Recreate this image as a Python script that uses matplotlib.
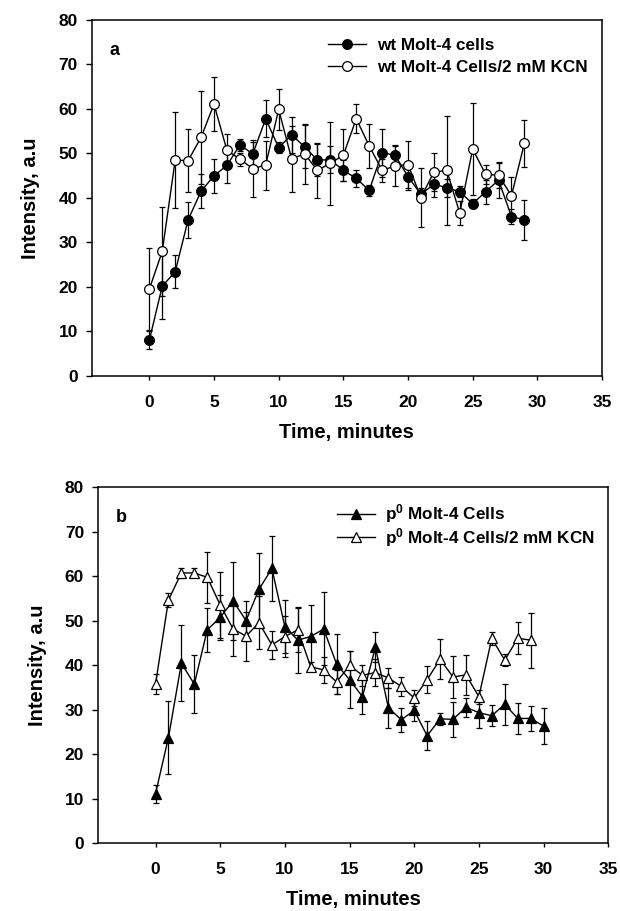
import matplotlib
matplotlib.use("Agg")
import matplotlib.pyplot as plt
from matplotlib.lines import Line2D

plt.rcParams['font.family'] = ['Liberation Sans', 'DejaVu Sans']
plt.rcParams['font.weight'] = 'bold'
plt.rcParams['mathtext.fontset'] = 'custom'
plt.rcParams['mathtext.rm'] = 'Liberation Sans:bold'
plt.rcParams['mathtext.bf'] = 'Liberation Sans:bold'
plt.rcParams['mathtext.it'] = 'Liberation Sans:bold'

# ---- Panel a data ----
time_a = list(range(0, 30))
wt = [8.0, 20.2, 23.4, 35.1, 41.5, 45.0, 47.3, 51.9, 49.9, 57.8,
      51.3, 54.2, 51.5, 48.5, 48.6, 46.2, 44.4, 41.7, 50.2, 49.6,
      44.8, 40.8, 43.1, 42.3, 41.4, 38.7, 41.4, 44.0, 35.8, 35.1]
wt_err = [2.0, 7.5, 3.7, 4.0, 3.8, 3.8, 4.0, 1.3, 2.6, 4.2,
          1.2, 4.0, 4.8, 3.6, 3.0, 2.4, 1.9, 1.2, 5.4, 2.4,
          3.0, 1.5, 2.9, 2.0, 1.2, 1.0, 2.7, 4.1, 1.7, 4.5]
wt_kcn = [19.5, 28.0, 48.5, 48.4, 53.6, 61.1, 50.7, 48.7, 46.6, 47.4,
          59.9, 48.8, 49.9, 46.2, 47.8, 49.6, 57.8, 51.7, 46.2, 47.2,
          47.5, 40.1, 45.8, 46.2, 36.6, 51.0, 45.3, 45.1, 40.5, 52.3]
wt_kcn_err = [9.2, 10.0, 10.8, 7.0, 10.5, 6.0, 3.6, 1.5, 6.4, 5.5,
              4.6, 7.4, 6.7, 6.1, 9.3, 5.8, 3.3, 4.9, 2.6, 4.5,
              5.3, 6.7, 4.3, 12.2, 2.7, 10.4, 2.1, 2.8, 4.2, 5.3]

# ---- Panel b data ----
time_b = list(range(0, 31))
p0 = [11.1, 23.7, 40.4, 35.7, 47.9, 50.7, 54.4, 50.0, 57.0, 61.7,
      48.6, 45.6, 46.4, 48.1, 40.2, 36.7, 32.9, 44.0, 30.4, 27.7,
      29.8, 24.1, 27.9, 27.8, 30.5, 29.3, 28.6, 31.2, 28.0, 28.0, 26.3]
p0_err = [2.0, 8.2, 8.5, 6.5, 5.0, 5.0, 8.8, 4.5, 8.2, 7.3,
          6.0, 7.5, 7.0, 8.2, 6.8, 6.4, 4.0, 3.4, 4.5, 2.7,
          2.3, 3.3, 1.4, 4.0, 2.2, 3.5, 2.4, 4.6, 3.5, 2.8, 4.0]
time_b2 = list(range(0, 30))
p0_kcn = [35.7, 54.6, 60.7, 60.7, 59.7, 53.5, 48.1, 46.5, 49.5, 44.5,
          46.4, 47.9, 39.6, 38.9, 36.2, 39.9, 37.7, 38.3, 37.1, 35.2,
          32.6, 36.7, 41.3, 37.3, 37.8, 32.9, 46.0, 41.1, 46.0, 45.6]
p0_kcn_err = [2.2, 1.5, 1.1, 1.0, 5.8, 7.5, 6.0, 5.5, 6.0, 3.2,
              4.6, 5.0, 1.0, 3.0, 2.6, 3.2, 2.4, 3.0, 2.3, 2.1,
              1.8, 3.0, 4.5, 4.8, 4.5, 1.6, 1.5, 1.4, 3.6, 6.2]

labels_a = ["wt Molt-4 cells", "wt Molt-4 Cells/2 mM KCN"]
labels_b = [r"p$^{0}$ Molt-4 Cells", r"p$^{0}$ Molt-4 Cells/2 mM KCN"]
yticks = [0, 10, 20, 30, 40, 50, 60, 70, 80]
xticks = [0, 5, 10, 15, 20, 25, 30, 35]

fig = plt.figure(figsize=(6.2, 9.11), dpi=100)
ax_a = fig.add_axes([0.148, 0.5873, 0.823, 0.3908])
ax_b = fig.add_axes([0.158, 0.0746, 0.823, 0.3908])

eb_kw = dict(color='black', lw=1.0, elinewidth=0.9, capsize=2.3, capthick=0.9,
             markeredgecolor='black', markeredgewidth=0.9)

ax_a.errorbar(time_a, wt, yerr=wt_err, marker='o', markerfacecolor='black',
              markersize=7.0, **eb_kw)
ax_a.errorbar(time_a, wt_kcn, yerr=wt_kcn_err, marker='o', markerfacecolor='white',
              markersize=7.0, **eb_kw)
ax_b.errorbar(time_b, p0, yerr=p0_err, marker='^', markerfacecolor='black',
              markersize=7.2, **eb_kw)
ax_b.errorbar(time_b2, p0_kcn, yerr=p0_kcn_err, marker='^', markerfacecolor='white',
              markersize=7.2, **eb_kw)

def handles(marker, ms):
    return [Line2D([], [], color='black', lw=1.0, marker=marker, markersize=ms,
                   markerfacecolor='black', markeredgecolor='black', markeredgewidth=0.9),
            Line2D([], [], color='black', lw=1.0, marker=marker, markersize=ms,
                   markerfacecolor='white', markeredgecolor='black', markeredgewidth=0.9)]

configs = [
    (ax_a, 'a', handles('o', 7.0), labels_a, (0.463, 0.948), 0.40, 2.2, 0.65),
    (ax_b, 'b', handles('^', 7.2), labels_b, (0.468, 0.957), 0.05, 2.25, 0.6),
]

for ax, letter, hs, labs, anchor, lsp, hl, htp in configs:
    ax.set_xlim(-4.45, 35)
    ax.set_ylim(0, 80)
    ax.set_xticks(xticks)
    ax.set_yticks(yticks)
    ax.tick_params(axis='both', direction='out', length=4, width=1.0,
                   labelsize=12.5)
    ax.tick_params(axis='y', pad=6)
    ax.tick_params(axis='x', length=3, pad=11)
    for lab in ax.get_xticklabels() + ax.get_yticklabels():
        lab.set_fontweight('bold')
    for sp in ax.spines.values():
        sp.set_linewidth(1.1)
    ax.set_ylabel("Intensity, a.u", fontsize=14.5, fontweight='bold', labelpad=13)
    ax.set_xlabel("Time, minutes", fontsize=14.5, fontweight='bold', labelpad=9)
    ax.text(0.035, 0.915, letter, transform=ax.transAxes, fontsize=13,
            fontweight='bold', va='center', ha='left')
    leg = ax.legend(hs, labs, loc='upper left', bbox_to_anchor=anchor, frameon=False,
                    fontsize=12.3, handlelength=hl, handletextpad=htp,
                    labelspacing=lsp, borderpad=0, borderaxespad=0)
    for t in leg.get_texts():
        t.set_fontweight('bold')

fig.savefig("out.png", dpi=100)
